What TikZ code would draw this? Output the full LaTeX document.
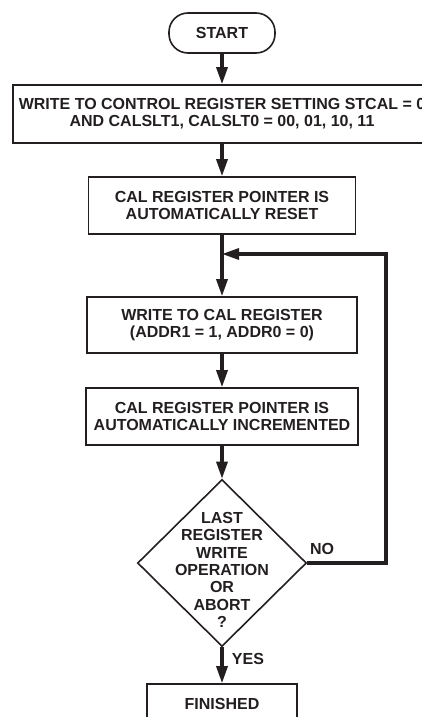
\documentclass[tikz,border=0pt]{standalone}
\usepackage{fontspec}
\setmainfont{Liberation Sans}
\usetikzlibrary{arrows.meta,shapes.geometric}
\definecolor{ink}{HTML}{231F20}
\begin{document}
\begin{tikzpicture}[x=1pt,y=-1pt,
  every node/.style={font=\fontsize{16}{17.3}\selectfont\bfseries, text=ink, align=center},
  procbox/.style={draw=ink, line width=1.6pt, rectangle, inner sep=0pt},
  flow/.style={draw=ink, line width=3.2pt, -{Triangle[length=17pt,width=11pt]}},
  lbl/.style={font=\fontsize{16}{17.3}\selectfont\bfseries}]
\useasboundingbox (0,0) rectangle (422,717);
\clip (0,0) rectangle (422,717);
\node[procbox, rounded corners=19pt, minimum width=106pt, minimum height=40pt] (start) at (222,33) {START};
\node[procbox, minimum width=418pt, minimum height=58pt] (b1) at (222,114)
  {WRITE TO CONTROL REGISTER SETTING STCAL = 0\\AND CALSLT1, CALSLT0 = 00, 01, 10, 11};
\node[procbox, minimum width=267pt, minimum height=57pt] (b2) at (222,205.5)
  {CAL REGISTER POINTER IS\\AUTOMATICALLY RESET};
\node[procbox, minimum width=270pt, minimum height=56pt] (b3) at (222,325)
  {WRITE TO CAL REGISTER\\(ADDR1 = 1, ADDR0 = 0)};
\node[procbox, minimum width=272pt, minimum height=57pt] (b4) at (222,416.5)
  {CAL REGISTER POINTER IS\\AUTOMATICALLY INCREMENTED};
\node[draw=ink, line width=1.6pt, diamond, inner sep=0pt, minimum width=169pt, minimum height=167pt,
  label={[align=center, yshift=-7pt]center:LAST\\REGISTER\\WRITE\\OPERATION\\OR\\ABORT\\?}] (d) at (222,563) {};
\node[procbox, minimum width=150pt, minimum height=40pt] (fin) at (222,704) {FINISHED};
\coordinate (j) at (222,254);
\coordinate (cr) at (386,563);
\draw[flow] (start) -- (b1);
\draw[flow] (b1) -- (b2);
\draw[flow] (b2) -- (b3);
\draw[flow] (b3) -- (b4);
\draw[flow] (b4) -- (d.north);
\draw[flow] (d.south) -- (fin);
\draw[flow] (d.east) -- (cr) |- (j);
\node[lbl] (no) at (322,549) {NO};
\node[lbl] (yes) at (248,659) {YES};
\end{tikzpicture}
\end{document}
